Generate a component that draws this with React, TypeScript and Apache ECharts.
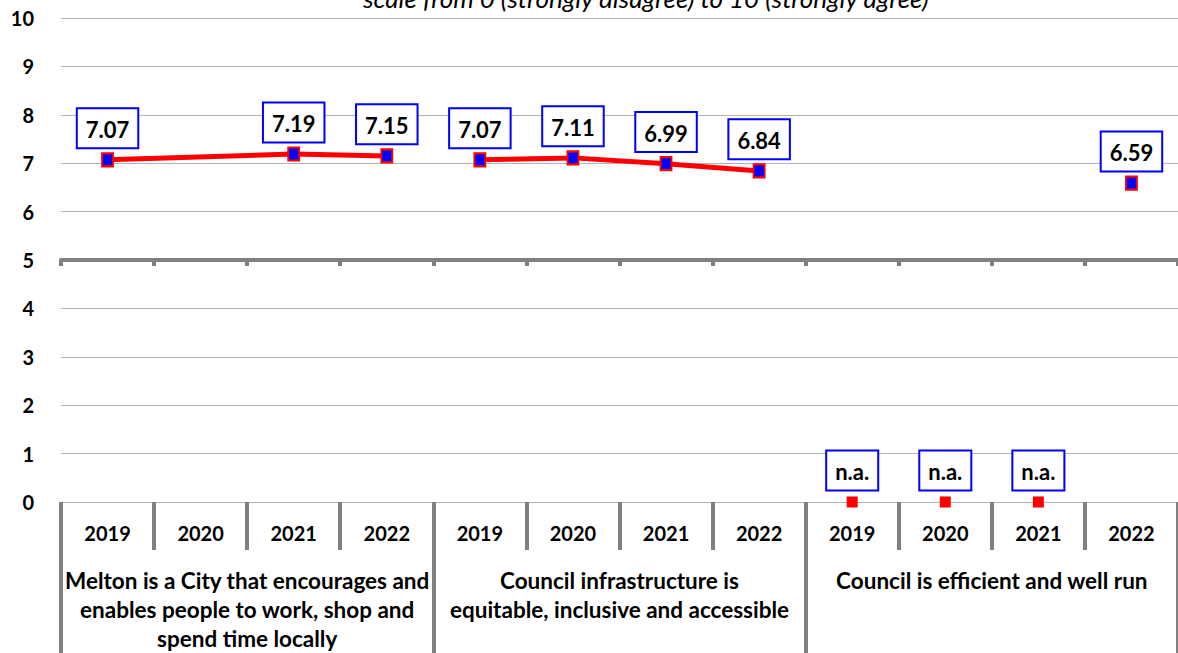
import React, { useEffect, useRef } from "react";
import * as echarts from "echarts";

const years = ["2019", "2020", "2021", "2022"];
const groupNames = [
  "Melton is a City that encourages and\nenables people to work, shop and\nspend time locally",
  "Council infrastructure is\nequitable, inclusive and accessible",
  "Council is efficient and well run",
];
const meltonValues: (number | null)[] = [7.07, null, 7.19, 7.15];
const infrastructureValues: (number | null)[] = [7.07, 7.11, 6.99, 6.84];
const efficientValues: (number | null)[] = [null, null, null, 6.59];
const efficientNotAvailable: (number | null)[] = [0, 0, 0, null];
const yTicks = [0, 1, 2, 3, 4, 5, 6, 7, 8, 9, 10];
const titleText = "scale from 0 (strongly disagree) to 10 (strongly agree)";

const FONT = "Lato, 'Noto Sans', sans-serif";

export default function App() {
  const ref = useRef<HTMLDivElement>(null);
  useEffect(() => {
    if (!ref.current) return;
    const chart = echarts.init(ref.current, undefined, { renderer: "svg" });
    const categories: string[] = [];
    groupNames.forEach(() => years.forEach((y) => categories.push(y)));
    const pad = (vals: (number | null)[], g: number) => {
      const out: (number | null)[] = new Array(12).fill(null);
      vals.forEach((v, i) => (out[g * 4 + i] = v));
      return out;
    };
    const boxLabel = {
      show: true,
      position: "top",
      distance: 5,
      color: "#000",
      fontFamily: FONT,
      fontWeight: "bold",
      fontSize: 22,
      backgroundColor: "#fff",
      borderColor: "#0000ff",
      borderWidth: 2,
      padding: [9, 8, 7, 8],
      formatter: (p: any) => (p.value == null ? "" : Number(p.value).toFixed(2)),
    };
    const lineSeries = (name: string, vals: (number | null)[], g: number) => ({
      name,
      type: "line",
      xAxisIndex: 0,
      yAxisIndex: 0,
      data: pad(vals, g),
      connectNulls: true,
      symbol: "rect",
      symbolSize: [11, 13],
      lineStyle: { color: "#ff0000", width: 5 },
      itemStyle: { color: "#0000ff", borderColor: "#ff0000", borderWidth: 2 },
      label: boxLabel,
      z: 3,
    });
    chart.setOption({
      animation: false,
      grid: { left: 61, right: 0, top: 18, bottom: 151, containLabel: false },
      graphic: [
        {
          type: "text",
          x: 646,
          y: 11,
          style: {
            text: titleText,
            fontFamily: FONT,
            fontStyle: "italic",
            fontSize: 26,
            fill: "#000",
            textAlign: "center",
            textVerticalAlign: "bottom",
          },
        },
      ],
      xAxis: [
        {
          type: "category",
          data: categories,
          position: "bottom",
          boundaryGap: true,
          axisLine: { show: true, onZero: false, lineStyle: { color: "#b3b3b3", width: 1 } },
          axisTick: { show: true, interval: 0, length: 48, lineStyle: { color: "#808080", width: 4 } },
          axisLabel: {
            interval: 0,
            margin: 21,
            color: "#000",
            fontFamily: FONT,
            fontWeight: "bold",
            fontSize: 20,
          },
        },
        {
          type: "category",
          data: groupNames,
          position: "bottom",
          boundaryGap: true,
          axisLine: { show: false, onZero: false },
          axisTick: { show: true, interval: 0, length: 151, lineStyle: { color: "#808080", width: 4 } },
          axisLabel: {
            interval: 0,
            margin: 64,
            verticalAlign: "top",
            lineHeight: 29,
            color: "#000",
            fontFamily: FONT,
            fontWeight: "bold",
            fontSize: 22.5,
          },
        },
        {
          type: "category",
          data: categories,
          position: "bottom",
          boundaryGap: true,
          axisLine: {
            show: true,
            onZero: true,
            onZeroAxisIndex: 1,
            lineStyle: { color: "#808080", width: 4 },
          },
          axisTick: { show: true, interval: 0, length: 6, lineStyle: { color: "#808080", width: 4 } },
          axisLabel: { show: false },
          z: 2,
        },
      ],
      yAxis: [
        {
          type: "value",
          min: yTicks[0],
          max: yTicks[yTicks.length - 1],
          interval: 1,
          axisLine: { show: false },
          axisTick: { show: false },
          splitLine: { show: true, lineStyle: { color: "#b3b3b3", width: 1 } },
          axisLabel: {
            margin: 27,
            color: "#000",
            fontFamily: FONT,
            fontWeight: "bold",
            fontSize: 20,
          },
        },
        {
          type: "value",
          min: -5,
          max: 5,
          show: false,
          splitLine: { show: false },
        },
      ],
      series: [
        lineSeries("Melton", meltonValues, 0),
        lineSeries("Infrastructure", infrastructureValues, 1),
        lineSeries("Efficient", efficientValues, 2),
        {
          name: "n.a.",
          type: "scatter",
          xAxisIndex: 0,
          yAxisIndex: 0,
          data: pad(efficientNotAvailable, 2),
          symbol: "rect",
          symbolSize: 11,
          itemStyle: { color: "#ff0000", opacity: 1 },
          label: { ...boxLabel, distance: 7, formatter: () => "n.a." },
          z: 4,
        },
      ],
    });
    return () => chart.dispose();
  }, []);
  return (
    <div
      ref={ref}
      style={{ position: "fixed", left: 0, top: 0, width: 1178, height: 653, background: "#fff" }}
    />
  );
}
